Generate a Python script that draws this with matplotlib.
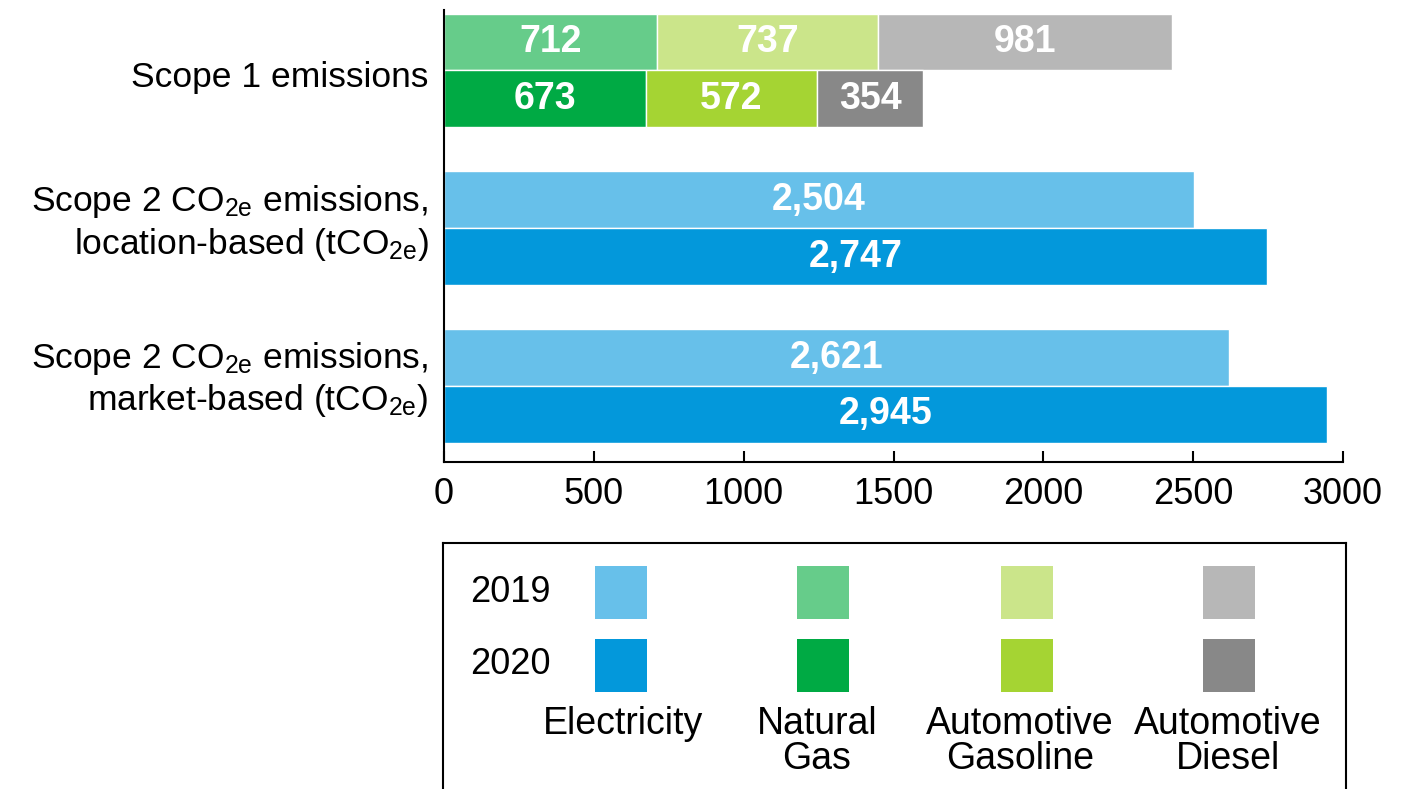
import matplotlib
matplotlib.use('Agg')
import matplotlib.pyplot as plt
from matplotlib.transforms import blended_transform_factory

plt.rcParams['font.family'] = ['Liberation Sans', 'DejaVu Sans']
plt.rcParams['mathtext.default'] = 'regular'

# --- data ---
group_labels = [
	'Scope 1 emissions',
	'Scope 2 CO$_{2e}$ emissions,\nlocation-based (tCO$_{2e}$)',
	'Scope 2 CO$_{2e}$ emissions,\nmarket-based (tCO$_{2e}$)',
]
years = ['2019', '2020']
sources = ['Electricity', 'Natural\nGas', 'Automotive\nGasoline', 'Automotive\nDiesel']
colors_2019 = ['#67C0EA', '#66CC8A', '#CBE58A', '#B7B7B7']
colors_2020 = ['#0398DB', '#00AA44', '#A5D433', '#888888']

# scope 1: natural gas, automotive gasoline, automotive diesel
scope1_2019 = [712, 737, 981]
scope1_2020 = [673, 572, 354]
# scope 2 electricity: 2019, 2020
location_based = [2504, 2747]
market_based = [2621, 2945]

xticks = [0, 500, 1000, 1500, 2000, 2500, 3000]

W, H = 1418, 789
fig = plt.figure(figsize=(W / 100, H / 100), dpi=100)
ax = fig.add_axes([444 / W, 1 - 462 / H, 899 / W, 452 / H])

bar_h = 0.36
offsets = [-0.18, 0.18]
year_colors = [colors_2019, colors_2020]


def label_bar(x, y, value):
	ax.text(x, y, '{:,}'.format(value), ha='center', va='center', color='white',
		fontsize=27, fontweight='bold')


# scope 1 stacked bars
for yi, vals in enumerate([scope1_2019, scope1_2020]):
	left = 0
	for k, v in enumerate(vals):
		ax.barh(0 + offsets[yi], v, left=left, height=bar_h, color=year_colors[yi][k + 1],
			edgecolor='white', linewidth=1)
		label_bar(left + v / 2, offsets[yi], v)
		left += v

# scope 2 bars
for gi, vals in [(1, location_based), (2, market_based)]:
	for yi, v in enumerate(vals):
		ax.barh(gi + offsets[yi], v, height=bar_h, color=year_colors[yi][0],
			edgecolor='white', linewidth=1)
		label_bar(v / 2, gi + offsets[yi], v)

ax.set_xlim(0, 3000)
ax.set_ylim(2.482, -0.3835)
ax.set_xticks(xticks)
ax.set_xticklabels([str(t) for t in xticks])
ax.set_yticks([])
ax.tick_params(axis='x', direction='in', length=8, width=1.5, labelsize=26, pad=11)
for s in ['top', 'right']:
	ax.spines[s].set_visible(False)
for s in ['left', 'bottom']:
	ax.spines[s].set_linewidth(1.5)

trans = blended_transform_factory(ax.transAxes, ax.transData)
label_pos = [0.045, 0.965, 1.96]
for lbl, yp in zip(group_labels, label_pos):
	ax.text(-0.017, yp, lbl, transform=trans, ha='right', va='center',
		multialignment='right', fontsize=25.5, linespacing=1.2)

# --- legend box, laid out in pixel units of its own axes ---
lx0, ly0, lx1 = 443, 543, 1346
lax = fig.add_axes([lx0 / W, 0, (lx1 - lx0) / W, (H - ly0) / H])
lax.set_xlim(0, lx1 - lx0)
lax.set_ylim(H - ly0, 0)
lax.set_xticks([])
lax.set_yticks([])
lax.spines['bottom'].set_visible(False)
for s in ['top', 'left', 'right']:
	lax.spines[s].set_linewidth(1.5)

col_x = [178, 380, 584, 786]
row_y = [49.5, 122]
for ri, cols in enumerate(year_colors):
	lax.bar(col_x, [53] * 4, bottom=row_y[ri] - 26.5, width=52, color=cols)
	lax.text(108, row_y[ri], years[ri], ha='right', va='center', fontsize=26)

text_x = [180, 374, 577, 785]
for tx, name in zip(text_x, sources):
	lax.text(tx, 163, name, ha='center', va='top', fontsize=27, linespacing=0.98)

fig.savefig('out.png', dpi=100)
